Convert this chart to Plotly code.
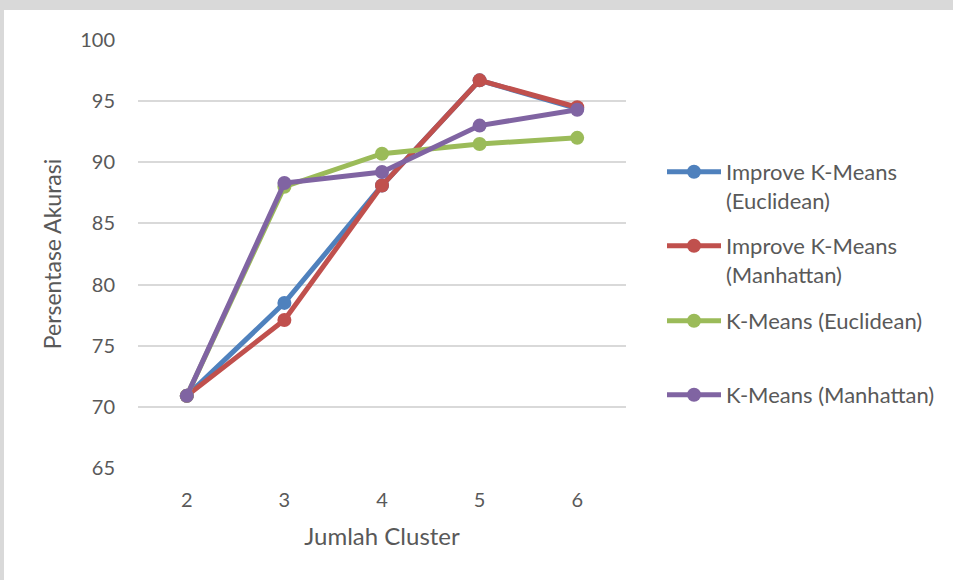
import plotly.graph_objects as go

# Number of clusters tested
clusters = [2, 3, 4, 5, 6]

# Accuracy (%) per method
improve_euclidean = [70.9, 78.5, 88.1, 96.7, 94.4]
improve_manhattan = [70.9, 77.1, 88.1, 96.7, 94.5]
kmeans_euclidean = [70.9, 88.0, 90.7, 91.5, 92.0]
kmeans_manhattan = [70.9, 88.3, 89.2, 93.0, 94.3]

series = [
    ("Improve K-Means<br>(Euclidean)", improve_euclidean, "#4f81bd", "legend"),
    ("Improve K-Means<br>(Manhattan)", improve_manhattan, "#c0504d", "legend2"),
    ("K-Means (Euclidean)", kmeans_euclidean, "#9bbb59", "legend3"),
    ("K-Means (Manhattan)", kmeans_manhattan, "#8064a2", "legend4"),
]

y_ticks = [65, 70, 75, 80, 85, 90, 95, 100]

FONT = "Lato"
TEXT = "#595959"

fig = go.Figure()
for name, vals, color, leg in series:
    fig.add_trace(go.Scatter(
        x=clusters, y=vals, name=name, mode="lines+markers",
        line=dict(color=color, width=5),
        marker=dict(color=color, size=14),
        legend=leg,
    ))

W, H = 953, 580
L, R, T, B = 138, 327, 40, 112
pw, ph = W - L - R, H - T - B


def px_x(px):
    return (px - L) / pw


def px_y(py):
    return (H - B - py) / ph


legend_tops = [151, 225, 300, 374]
legend_common = dict(
    xanchor="left", yanchor="top", bgcolor="rgba(0,0,0,0)",
    font=dict(family=FONT, size=22, color=TEXT), valign="top",
    itemwidth=54,
)
legend_layout = {}
for i, top in enumerate(legend_tops):
    key = "legend" if i == 0 else f"legend{i + 1}"
    legend_layout[key] = dict(x=px_x(662), y=px_y(top), **legend_common)

fig.update_layout(
    width=W, height=H,
    margin=dict(l=L, r=R, t=T, b=B),
    paper_bgcolor="#d9d9d9",
    plot_bgcolor="white",
    font=dict(family=FONT, color=TEXT),
    showlegend=True,
    xaxis=dict(
        range=[1.5, 6.5], tickvals=clusters, showgrid=False, zeroline=False,
        showline=False, ticks="outside", ticklen=14, tickcolor="rgba(0,0,0,0)",
        tickfont=dict(size=20, color=TEXT),
        title=dict(text="Jumlah Cluster", font=dict(size=24, color=TEXT), standoff=18),
    ),
    yaxis=dict(
        range=[65, 100], tickvals=y_ticks, showgrid=True, gridcolor="#d9d9d9",
        gridwidth=1.5, zeroline=False, showline=False, ticks="outside",
        ticklen=18, tickcolor="rgba(0,0,0,0)",
        tickfont=dict(size=20, color=TEXT),
        title=dict(text="Persentase Akurasi", font=dict(size=23, color=TEXT), standoff=12),
    ),
    shapes=[dict(
        type="rect", xref="paper", yref="paper", layer="below",
        x0=px_x(4), x1=px_x(W + 5), y0=px_y(H + 5), y1=px_y(10),
        fillcolor="white", line=dict(width=0),
    )],
    **legend_layout,
)

fig.write_html("out.html")
